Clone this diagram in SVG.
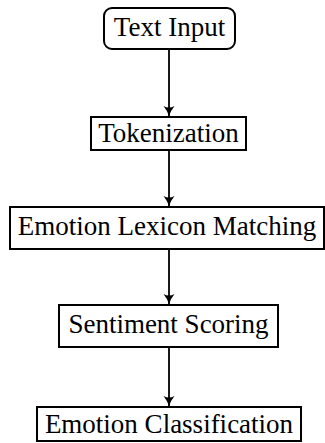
<svg xmlns="http://www.w3.org/2000/svg" width="325" height="443" viewBox="0 0 325 443">
  <style>
    .box { fill: #ffffff; stroke: #000000; stroke-width: 2; }
    .lbl { font-family: "Liberation Serif", "Times New Roman", serif; font-size: 27px; fill: #000000; text-anchor: middle; }
    .edge { stroke: #000000; stroke-width: 1.8; fill: none; marker-end: url(#head); }
  </style>
  <defs>
    <!-- curved TikZ-style arrow tip -->
    <marker id="head" markerWidth="14" markerHeight="14" refX="11" refY="7" orient="auto" markerUnits="userSpaceOnUse">
      <path d="M1,1.5 Q6,5.5 11,7 Q6,8.5 1,12.5 Q4,7 1,1.5 Z" fill="#000000"/>
    </marker>
  </defs>

  <g id="connectors">
    <line class="edge" x1="169" y1="49" x2="169" y2="116"/>
    <line class="edge" x1="169" y1="150" x2="169" y2="206"/>
    <line class="edge" x1="169" y1="249" x2="169" y2="304"/>
    <line class="edge" x1="169" y1="347" x2="169" y2="406"/>
  </g>

  <g id="text-input">
    <rect class="box" x="104" y="8" width="131" height="41" rx="8" ry="8"/>
    <text class="lbl" x="169.5" y="36">Text Input</text>
  </g>

  <g id="tokenization">
    <rect class="box" x="91" y="117" width="155" height="33"/>
    <text class="lbl" x="168.5" y="142">Tokenization</text>
  </g>

  <g id="lexicon-matching">
    <rect class="box" x="10" y="207" width="314" height="42"/>
    <text class="lbl" x="167" y="235">Emotion Lexicon Matching</text>
  </g>

  <g id="sentiment-scoring">
    <rect class="box" x="59" y="305" width="219" height="42"/>
    <text class="lbl" x="168.5" y="333">Sentiment Scoring</text>
  </g>

  <g id="emotion-classification">
    <rect class="box" x="37" y="407" width="264" height="34"/>
    <text class="lbl" x="169" y="433">Emotion Classification</text>
  </g>
</svg>
